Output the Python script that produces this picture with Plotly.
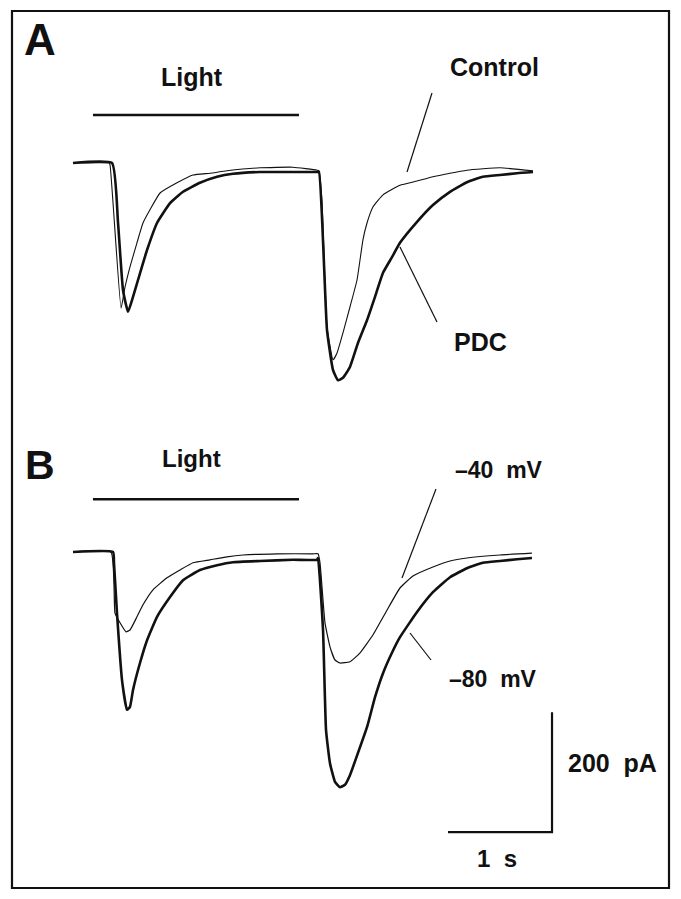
import plotly.graph_objects as go

# ---------------- data (time in ms, current in pA relative to baseline) -------------
# Panel A
ctrl_t = [0, 346, 356, 462, 500, 548, 615, 673, 740, 837, 1000, 1154, 1317, 1481, 1798, 2115, 2346,
          2365, 2394, 2442, 2500, 2538, 2596, 2663, 2731, 2788, 2827, 2885, 2981, 3144, 3308, 3461,
          3625, 3788, 4106, 4423]
ctrl_i = [0, 0, -3, -242, -207, -173, -133, -100, -78, -50, -33, -20, -17, -13, -8, -7, -12,
          -13, -62, -273, -328, -317, -283, -240, -195, -128, -100, -73, -53, -37, -30, -23,
          -17, -12, -8, -13]

pdc_t = [0, 375, 433, 481, 529, 577, 625, 712, 808, 933, 1058, 1221, 1385, 1538, 1798, 2115, 2346,
         2365, 2442, 2500, 2548, 2596, 2663, 2740, 2827, 2904, 2981, 3067, 3144, 3308, 3461, 3625,
         3788, 3942, 4106, 4269, 4423]
pdc_i = [0, 0, -100, -212, -248, -223, -195, -145, -100, -67, -48, -33, -23, -18, -15, -15, -15,
         -15, -278, -345, -362, -358, -340, -300, -262, -223, -183, -157, -133, -98, -70, -48,
         -32, -23, -20, -17, -15]

# Panel B
m40_t = [0, 365, 404, 452, 510, 548, 615, 673, 769, 904, 1029, 1154, 1317, 1481, 1635, 1962, 2308,
         2356, 2375, 2394, 2423, 2471, 2519, 2567, 2663, 2760, 2885, 3019, 3144, 3269, 3461, 3625,
         3788, 4106, 4413]
m40_i = [0, 0, -102, -118, -133, -130, -108, -88, -63, -43, -30, -18, -13, -8, -5, -3, -3,
         -3, -18, -58, -118, -158, -180, -185, -183, -168, -138, -97, -60, -40, -25, -15,
         -10, -5, -2]

m80_t = [0, 385, 394, 423, 471, 519, 548, 577, 644, 712, 808, 933, 1058, 1221, 1385, 1538, 1798,
         2115, 2346, 2356, 2404, 2433, 2471, 2519, 2567, 2615, 2663, 2740, 2827, 2904, 2981, 3067,
         3144, 3308, 3461, 3625, 3788, 3942, 4106, 4269, 4413]
m80_i = [0, 0, -18, -102, -213, -263, -258, -230, -185, -147, -108, -75, -47, -30, -22, -17, -15,
         -13, -13, -10, -130, -297, -352, -383, -392, -388, -372, -335, -292, -242, -202, -168,
         -142, -100, -67, -42, -27, -18, -15, -12, -10]

light_on_ms = 192
light_off_ms = 2173
light_level_a = 80      # pA offset at which the light bar sits (panel A)
light_level_b = 88      # panel B

scale_t0_ms = 3606
scale_len_ms = 1000
scale_i0_pa = -467
scale_len_pa = 200

labels_a = ["Control", "PDC"]
labels_b = ["–40  mV", "–80  mV"]

# ---------------- figure -------------------------------------------------------------
W, H = 681, 899
PX_MS = 1000 / 104.0      # ms per pixel
PX_PA = 200 / 120.0       # pA per pixel
X0 = 73                   # pixel of t = 0
BASE_A, BASE_B = 163, 552 # pixel rows of the baselines

x_range = [-X0 * PX_MS, (W - X0) * PX_MS]
ya_range = [(BASE_A - H) * PX_PA, BASE_A * PX_PA]
yb_range = [(BASE_B - H) * PX_PA, BASE_B * PX_PA]

fig = go.Figure()
black = "#111111"
trace_line = dict(shape="spline", smoothing=0.4)

fig.add_trace(go.Scatter(x=ctrl_t, y=ctrl_i, mode="lines", line=dict(color=black, width=1.1, **trace_line),
                         xaxis="x", yaxis="y", name=labels_a[0]))
fig.add_trace(go.Scatter(x=pdc_t, y=pdc_i, mode="lines", line=dict(color=black, width=2.6, **trace_line),
                         xaxis="x", yaxis="y", name=labels_a[1]))
fig.add_trace(go.Scatter(x=m40_t, y=m40_i, mode="lines", line=dict(color=black, width=1.2, **trace_line),
                         xaxis="x", yaxis="y2", name=labels_b[0]))
fig.add_trace(go.Scatter(x=m80_t, y=m80_i, mode="lines", line=dict(color=black, width=2.6, **trace_line),
                         xaxis="x", yaxis="y2", name=labels_b[1]))

# light bars
fig.add_trace(go.Scatter(x=[light_on_ms, light_off_ms], y=[light_level_a, light_level_a],
                         mode="lines", line=dict(color=black, width=2.5), xaxis="x", yaxis="y"))
fig.add_trace(go.Scatter(x=[light_on_ms, light_off_ms], y=[light_level_b, light_level_b],
                         mode="lines", line=dict(color=black, width=2.5), xaxis="x", yaxis="y2"))

# scale bar
fig.add_trace(go.Scatter(x=[scale_t0_ms, scale_t0_ms + scale_len_ms, scale_t0_ms + scale_len_ms],
                         y=[scale_i0_pa, scale_i0_pa, scale_i0_pa + scale_len_pa],
                         mode="lines", line=dict(color=black, width=2.2), xaxis="x", yaxis="y2"))


def px(xp):
    return xp / W


def py(yp):
    return 1 - yp / H


shapes = []
# frame
shapes.append(dict(type="rect", xref="paper", yref="paper", x0=px(12), x1=px(669), y0=py(888), y1=py(11),
                   line=dict(color=black, width=2.2)))
# pointer lines
for (x0, y0, x1, y1) in [(432, 93, 407, 172), (400, 247, 437, 322), (436, 489, 402, 578), (410, 633, 431, 660)]:
    shapes.append(dict(type="line", xref="paper", yref="paper", x0=px(x0), y0=py(y0), x1=px(x1), y1=py(y1),
                       line=dict(color=black, width=1.2)))

font_family = "Liberation Sans, Arial, Helvetica, sans-serif"
ann = []


def label(text, cx, cy, size):
    ann.append(dict(text="<b>%s</b>" % text, x=px(cx), y=py(cy), xref="paper", yref="paper",
                    xanchor="center", yanchor="middle", showarrow=False,
                    font=dict(family=font_family, size=size, color=black)))


label("A", 40, 39, 44)
label("B", 40, 465, 41)
label("Light", 192, 77, 25)
label("Light", 191, 459, 24)
label(labels_a[0], 494, 67, 25)
label(labels_a[1], 480, 342, 25)
label(labels_b[0], 499, 470, 23)
label(labels_b[1], 493, 679, 23)
label("200  pA", 612, 763, 25)
label("1  s", 497, 858, 24)

axis_common = dict(visible=False, showgrid=False, zeroline=False, fixedrange=True)
fig.update_layout(
    width=W, height=H, autosize=False,
    margin=dict(l=0, r=0, t=0, b=0, pad=0),
    paper_bgcolor="white", plot_bgcolor="white",
    showlegend=False,
    xaxis=dict(range=x_range, domain=[0, 1], **axis_common),
    yaxis=dict(range=ya_range, domain=[0, 1], **axis_common),
    yaxis2=dict(range=yb_range, domain=[0, 1], overlaying="y", **axis_common),
    shapes=shapes,
    annotations=ann,
)

fig.write_html("out.html", config={"displayModeBar": False},
               post_script="document.body.style.margin='0px';document.body.style.padding='0px';")
